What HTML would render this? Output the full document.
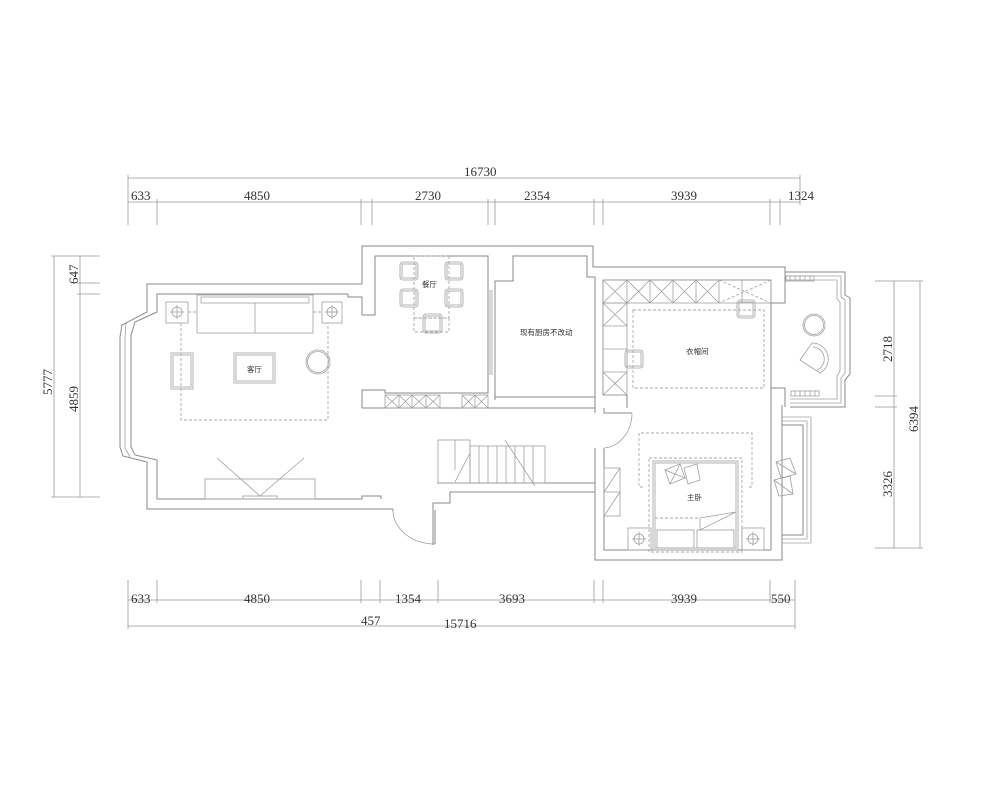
<!DOCTYPE html>
<html><head><meta charset="utf-8"><style>
html,body{margin:0;padding:0;background:#fff;width:1000px;height:790px;overflow:hidden}
svg{display:block}
.w{fill:none;stroke:#8a8a8a;stroke-width:1}
.t{fill:none;stroke:#a0a0a0;stroke-width:0.8}
.d{fill:none;stroke:#aaa;stroke-width:0.9;stroke-dasharray:3,2}
.dim{fill:none;stroke:#999;stroke-width:0.8}
.n{font-family:"Liberation Serif",serif;font-size:13px;fill:#333}
.l{font-family:"Liberation Sans","Noto Sans CJK SC",sans-serif;font-size:7.5px;fill:#333}
</style></head><body>
<svg width="1000" height="790" viewBox="0 0 1000 790" xmlns="http://www.w3.org/2000/svg">
<!-- top dimensions -->
<g class="dim">
<line x1="128" y1="178" x2="800" y2="178"/>
<line x1="128" y1="202" x2="800" y2="202"/>
<line x1="128" y1="175" x2="128" y2="225"/>
<line x1="157" y1="199" x2="157" y2="225"/>
<line x1="361" y1="199" x2="361" y2="225"/><line x1="372" y1="199" x2="372" y2="225"/>
<line x1="488" y1="199" x2="488" y2="225"/><line x1="495" y1="199" x2="495" y2="225"/>
<line x1="594" y1="199" x2="594" y2="225"/><line x1="603" y1="199" x2="603" y2="225"/>
<line x1="770" y1="199" x2="770" y2="225"/><line x1="780" y1="199" x2="780" y2="225"/>
<line x1="800" y1="175" x2="800" y2="205"/>
<!-- bottom -->
<line x1="128" y1="600" x2="795" y2="600"/>
<line x1="128" y1="626" x2="795" y2="626"/>
<line x1="128" y1="580" x2="128" y2="629"/>
<line x1="157" y1="580" x2="157" y2="603"/>
<line x1="361" y1="580" x2="361" y2="603"/><line x1="380" y1="580" x2="380" y2="603"/>
<line x1="438" y1="580" x2="438" y2="603"/>
<line x1="594" y1="580" x2="594" y2="603"/><line x1="603" y1="580" x2="603" y2="603"/>
<line x1="770" y1="580" x2="770" y2="603"/>
<line x1="795" y1="580" x2="795" y2="629"/>
<!-- left -->
<line x1="54" y1="256" x2="54" y2="497"/>
<line x1="80" y1="256" x2="80" y2="497"/>
<line x1="51" y1="256" x2="100" y2="256"/>
<line x1="77" y1="283" x2="100" y2="283"/>
<line x1="77" y1="294" x2="100" y2="294"/>
<line x1="51" y1="497" x2="100" y2="497"/>
<!-- right -->
<line x1="894" y1="281" x2="894" y2="548"/>
<line x1="920" y1="281" x2="920" y2="548"/>
<line x1="875" y1="281" x2="923" y2="281"/>
<line x1="875" y1="396" x2="897" y2="396"/>
<line x1="875" y1="407" x2="897" y2="407"/>
<line x1="875" y1="548" x2="923" y2="548"/>
</g>
<text class="n" x="464" y="176">16730</text>
<text class="n" x="131" y="200">633</text>
<text class="n" x="244" y="200">4850</text>
<text class="n" x="415" y="200">2730</text>
<text class="n" x="524" y="200">2354</text>
<text class="n" x="671" y="200">3939</text>
<text class="n" x="788" y="200">1324</text>
<text class="n" x="131" y="603">633</text>
<text class="n" x="244" y="603">4850</text>
<text class="n" x="395" y="603">1354</text>
<text class="n" x="499" y="603">3693</text>
<text class="n" x="671" y="603">3939</text>
<text class="n" x="771" y="603">550</text>
<text class="n" x="361" y="625">457</text>
<text class="n" x="444" y="628">15716</text>
<text class="n" transform="translate(52,395) rotate(-90)">5777</text>
<text class="n" transform="translate(78,412) rotate(-90)">4859</text>
<text class="n" transform="translate(78,284) rotate(-90)">647</text>
<text class="n" transform="translate(892,362) rotate(-90)">2718</text>
<text class="n" transform="translate(892,497) rotate(-90)">3326</text>
<text class="n" transform="translate(918,432) rotate(-90)">6394</text>

<!-- walls -->
<g class="w">
<polyline points="362,284 147,284 147,312 122,325 120,337 120,447 123,456 147,462 147,509 393,509"/>
<polyline points="348,294 157,294 157,312 135,322 131,335 131,447 135,455 157,460 157,499 362,499 362,496 381,496 381,499"/>
<polyline points="126,323 125,337 125,448 130,457" class="t"/>
<polyline points="348,294 348,297 362,297 362,315 375,315 375,256 488,256 488,393 385,393 385,390 362,390 362,408"/>
<polyline points="362,284 362,246 593,246 593,267 785,267 785,272 845,272 845,295 850,298 850,374 845,380 845,407 790,407"/>
<polyline points="362,408 595,408"/>
<polyline points="495,400 495,281 513,281 513,256 587,256 587,277 595,277 595,397 495,397"/>
<line x1="490" y1="290" x2="490" y2="375" class="t"/><line x1="492" y1="290" x2="492" y2="375" class="t"/>
<!-- wardrobe room -->
<polyline points="603,280 771,280 771,303 785,303 785,272"/>
<polyline points="603,280 603,395 627,395 627,408"/>
<polyline points="595,397 595,413"/>
<polyline points="771,303 771,388 785,388 785,407"/>
<!-- bedroom -->
<polyline points="595,448 595,560 782,560 782,405"/>
<polyline points="604,448 604,550 771,550 771,388"/>
<polyline points="604,408 604,413 632,413"/>
<path d="M604,448 A30,35 0 0 0 632,413" class="t"/>
<!-- balcony -->
<polyline points="782,425 803,425 803,535 782,535"/>
<polyline points="782,421 807,421 807,539 782,539" class="t"/>
<polyline points="782,417 811,417 811,543 782,543" class="t"/>
<!-- bay right extra lines -->
<polyline points="785,276 841,276 841,297 845,300 845,373 841,378 841,403 790,403" class="t"/>
<polyline points="785,280 837,280 837,299 840,302 840,371 837,376 837,399 790,399" class="t"/>
<!-- hall -->
<polyline points="437,483 595,483"/>
<polyline points="433,545 433,503 450,503 450,492 595,492"/>
<polyline points="393,509 393,512"/>
<path d="M393,510 A42,34 0 0 0 435,544" class="t"/>
<line x1="435" y1="510" x2="435" y2="544"/>
</g>
<!-- stairs -->
<g class="t">
<rect x="438" y="440" width="32" height="43"/>
<line x1="455" y1="440" x2="455" y2="470"/>
<rect x="470" y="446" width="75" height="37"/>
<line x1="479" y1="446" x2="479" y2="483"/><line x1="488" y1="446" x2="488" y2="483"/>
<line x1="497" y1="446" x2="497" y2="483"/><line x1="506" y1="446" x2="506" y2="483"/>
<line x1="515" y1="446" x2="515" y2="483"/><line x1="524" y1="446" x2="524" y2="483"/>
<line x1="533" y1="446" x2="533" y2="483"/>
<line x1="455" y1="482" x2="470" y2="453"/>
<line x1="505" y1="440" x2="535" y2="486"/>
</g>
<!-- living furniture -->
<g class="t">
<rect x="197" y="295" width="116" height="38"/><rect x="201" y="297" width="108" height="6"/>
<line x1="255" y1="303" x2="255" y2="333"/>
<rect x="166" y="302" width="22" height="21"/><circle cx="177" cy="312" r="5"/><line x1="177" y1="305" x2="177" y2="319"/><line x1="170" y1="312" x2="184" y2="312"/>
<rect x="322" y="302" width="20" height="21"/><circle cx="332" cy="312" r="5"/><line x1="332" y1="305" x2="332" y2="319"/><line x1="325" y1="312" x2="339" y2="312"/>
<rect x="171" y="353" width="22" height="36"/><rect x="173" y="355" width="18" height="32"/>
<rect x="234" y="353" width="41" height="30"/><rect x="236" y="355" width="37" height="26"/>
<circle cx="318" cy="362" r="12"/><circle cx="318" cy="362" r="10.5"/>
<rect x="205" y="479" width="110" height="20"/><rect x="243" y="496" width="34" height="3"/>
<polyline points="217,458 260,496 304,458"/>
</g>
<polyline class="d" points="181,323 181,420 328,420 328,323"/>
<line class="d" x1="188" y1="312" x2="197" y2="312"/><line class="d" x1="313" y1="312" x2="322" y2="312"/>
<text class="l" x="247" y="372">客厅</text>
<!-- dining -->
<g class="t">
<rect x="400" y="262" width="18" height="18" rx="3"/><rect x="445" y="262" width="18" height="18" rx="3"/>
<rect x="400" y="289" width="18" height="18" rx="3"/><rect x="445" y="289" width="18" height="18" rx="3"/>
<rect x="423" y="314" width="19" height="19" rx="3"/>
<rect x="402" y="264" width="14" height="14"/><rect x="447" y="264" width="14" height="14"/>
<rect x="402" y="291" width="14" height="14"/><rect x="447" y="291" width="14" height="14"/>
<rect x="425" y="316" width="15" height="15"/>
</g>
<rect class="d" x="414" y="256" width="35" height="62"/><rect class="d" x="414" y="318" width="35" height="14"/>
<text class="l" x="422" y="287">餐厅</text>
<!-- dining cabinets -->
<g class="t">
<rect x="385" y="395" width="55" height="13"/>
<line x1="399" y1="395" x2="399" y2="408"/><line x1="412" y1="395" x2="412" y2="408"/><line x1="426" y1="395" x2="426" y2="408"/>
<path d="M385,395 L399,408 M399,395 L385,408 M399,395 L412,408 M412,395 L399,408 M412,395 L426,408 M426,395 L412,408 M426,395 L440,408 M440,395 L426,408"/>
<rect x="462" y="395" width="26" height="13"/><line x1="475" y1="395" x2="475" y2="408"/>
<path d="M462,395 L475,408 M475,395 L462,408 M475,395 L488,408 M488,395 L475,408"/>
</g>
<text class="l" x="520" y="335">现有厨房不改动</text>
<!-- wardrobe cabinets -->
<g class="t">
<rect x="603" y="280" width="168" height="23"/>
<line x1="627" y1="280" x2="627" y2="303"/><line x1="650" y1="280" x2="650" y2="303"/><line x1="673" y1="280" x2="673" y2="303"/><line x1="696" y1="280" x2="696" y2="303"/><line x1="719" y1="280" x2="719" y2="303"/><line x1="742" y1="280" x2="742" y2="303"/>
<path d="M603,280 L627,303 M627,280 L603,303 M627,280 L650,303 M650,280 L627,303 M650,280 L673,303 M673,280 L650,303 M673,280 L696,303 M696,280 L673,303 M696,280 L719,303 M719,280 L696,303"/>
<path d="M719,280 L771,303 M771,280 L719,303" class="d"/>
<rect x="603" y="303" width="24" height="92"/>
<line x1="603" y1="326" x2="627" y2="326"/><line x1="603" y1="349" x2="627" y2="349"/><line x1="603" y1="372" x2="627" y2="372"/>
<path d="M603,303 L627,326 M627,303 L603,326 M603,372 L627,395 M627,372 L603,395"/>
<rect x="737" y="300" width="18" height="18" rx="3"/><rect x="739" y="302" width="14" height="14"/>
<rect x="625" y="350" width="18" height="18" rx="3"/><rect x="627" y="352" width="14" height="14"/>
<circle cx="814" cy="325" r="11"/><circle cx="814" cy="325" r="9.5"/>
<path d="M800,360 L812,343 A16,16 0 0 1 820,373 Z"/>
<path d="M813,347 A12,12 0 0 1 817,370"/>
<rect x="786" y="276" width="28" height="5"/><line x1="790" y1="276" x2="790" y2="281"/><line x1="795" y1="276" x2="795" y2="281"/><line x1="800" y1="276" x2="800" y2="281"/><line x1="805" y1="276" x2="805" y2="281"/><line x1="810" y1="276" x2="810" y2="281"/>
<rect x="791" y="391" width="28" height="5"/><line x1="795" y1="391" x2="795" y2="396"/><line x1="800" y1="391" x2="800" y2="396"/><line x1="805" y1="391" x2="805" y2="396"/><line x1="810" y1="391" x2="810" y2="396"/><line x1="815" y1="391" x2="815" y2="396"/>
</g>
<rect class="d" x="633" y="310" width="131" height="78"/>
<text class="l" x="686" y="354">衣帽间</text>
<!-- bedroom furniture -->
<polyline class="d" points="643,487 639,487 639,433 752,433 752,487 748,487"/>
<rect class="d" x="649" y="458" width="93" height="94"/>
<g class="t">
<rect x="653" y="461" width="85" height="89"/><rect x="655" y="463" width="81" height="85"/>
<polygon points="665,470 680,464 685,478 670,484"/><polygon points="684,468 697,464 700,480 688,484"/>
<line x1="665" y1="470" x2="685" y2="478"/><line x1="680" y1="464" x2="670" y2="484"/>
<polygon points="700,518 736,512 700,530"/>
<rect x="657" y="530" width="37" height="18"/><rect x="697" y="530" width="37" height="18"/>
<rect x="628" y="528" width="23" height="22"/><circle cx="639" cy="539" r="5"/><line x1="639" y1="532" x2="639" y2="546"/><line x1="632" y1="539" x2="646" y2="539"/>
<rect x="742" y="528" width="22" height="22"/><circle cx="753" cy="539" r="5"/><line x1="753" y1="532" x2="753" y2="546"/><line x1="746" y1="539" x2="760" y2="539"/>
<rect x="604" y="468" width="16" height="48"/><line x1="604" y1="492" x2="620" y2="492"/>
<line x1="604" y1="492" x2="620" y2="468"/><line x1="604" y1="516" x2="620" y2="492"/>
<polygon points="776,462 790,458 796,474 781,478"/><polygon points="774,480 790,476 793,494 779,496"/>
<line x1="776" y1="462" x2="796" y2="474"/><line x1="774" y1="480" x2="793" y2="494"/>
</g>
<line class="d" x1="655" y1="518" x2="700" y2="518"/>
<text class="l" x="687" y="500">主卧</text>
</svg>
</body></html>
